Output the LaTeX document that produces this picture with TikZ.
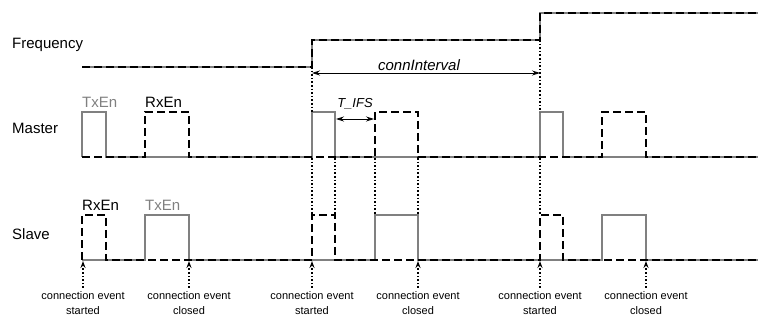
\documentclass[tikz,border=0pt]{standalone}
\usepackage{fontspec}
\setmainfont{Liberation Sans}
\usetikzlibrary{arrows.meta}
\definecolor{txgray}{RGB}{128,128,128}
\begin{document}
\begin{tikzpicture}[x=1pt,y=-1pt,
  txline/.style={draw=txgray, line width=2pt},
  rxline/.style={draw=black, line width=2pt, dash pattern=on 8pt off 4pt},
  guide/.style={draw=black, line width=1.6pt, dash pattern=on 1.6pt off 2pt},
  evarrow/.style={guide, -{Stealth[length=7pt,width=5pt]}, shorten >=0pt},
  dimarrow/.style={draw=black, line width=0.8pt, {Stealth[length=8pt,width=5pt]}-{Stealth[length=8pt,width=5pt]}},
  rowlabel/.style={anchor=west, font=\fontsize{15}{17}\selectfont, inner sep=0pt},
  siglabel/.style={anchor=south west, font=\fontsize{15}{17}\selectfont, inner sep=0pt},
  evlabel/.style={align=center, anchor=north, font=\fontsize{11}{15}\selectfont, inner sep=0pt},
]
\useasboundingbox (0,0) rectangle (758,320);

% row labels
\node[rowlabel] (lfreq) at (12,45) {Frequency};
\node[rowlabel] (lmaster) at (12,128) {Master};
\node[rowlabel] (lslave) at (12,234) {Slave};

% frequency
\draw[txline] (82,67) -- (312,67) -- (312,40) -- (540,40) -- (540,13) -- (758,13);
\draw[rxline] (82,67) -- (312,67) -- (312,40) -- (540,40) -- (540,13) -- (758,13);

% master
\draw[txline] (82,157) -- (82,112) -- (106,112) -- (106,157) -- (312,157) -- (312,112) -- (335,112) -- (335,157) -- (540,157) -- (540,112) -- (563,112) -- (563,157) -- (758,157);
\draw[rxline] (82,157) -- (145,157) -- (145,112) -- (189,112) -- (189,157) -- (375,157) -- (375,112) -- (418,112) -- (418,157) -- (602,157) -- (602,112) -- (646,112) -- (646,157) -- (758,157);
\node[siglabel, text=txgray] (mtx) at (82,108) {TxEn};
\node[siglabel] (mrx) at (145,108) {RxEn};

% slave
\draw[txline] (82,260) -- (145,260) -- (145,215) -- (189,215) -- (189,260) -- (375,260) -- (375,215) -- (418,215) -- (418,260) -- (602,260) -- (602,215) -- (646,215) -- (646,260) -- (758,260);
\draw[rxline] (82,260) -- (82,215) -- (106,215) -- (106,260) -- (312,260) -- (312,215) -- (335,215) -- (335,260) -- (540,260) -- (540,215) -- (563,215) -- (563,260) -- (758,260);
\node[siglabel] (srx) at (82,211) {RxEn};
\node[siglabel, text=txgray] (stx) at (145,211) {TxEn};

% dotted guides
\coordinate (g1a) at (312,67);  \coordinate (g1b) at (312,112);
\coordinate (g2a) at (540,40);  \coordinate (g2b) at (540,112);
\draw[guide] (g1a) -- (g1b);
\draw[guide] (g2a) -- (g2b);
\foreach \x in {312,335,375,418,540} {
  \coordinate (ga\x) at (\x,158);
  \coordinate (gb\x) at (\x,215);
  \draw[guide] (ga\x) -- (gb\x);
}

% connInterval
\coordinate (ci1) at (312,73);
\coordinate (ci2) at (540,73);
\draw[dimarrow] (ci1) -- (ci2);
\node[font=\itshape\fontsize{15}{17}\selectfont, inner sep=0pt] (cilab) at (419,65) {connInterval};

% T_IFS
\coordinate (tf1) at (336,119);
\coordinate (tf2) at (374,119);
\draw[dimarrow] (tf1) -- (tf2);
\node[font=\itshape\fontsize{13}{15}\selectfont, inner sep=0pt] (tflab) at (355,104) {T\_IFS};

% event arrows and labels
\foreach \x/\t in {83/started,189/closed,312/started,418/closed,540/started,646/closed} {
  \coordinate (ea\x) at (\x,288);
  \coordinate (eb\x) at (\x,261);
  \draw[evarrow] (ea\x) -- (eb\x);
  \node[evlabel] (el\x) at (\x,291) {connection event\\\t};
}
\end{tikzpicture}
\end{document}
